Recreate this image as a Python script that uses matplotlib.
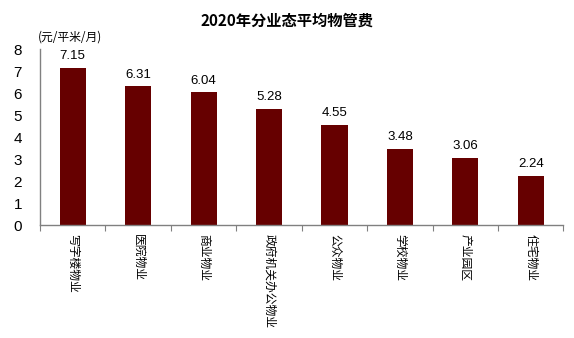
import matplotlib
matplotlib.use("Agg")
import matplotlib.pyplot as plt
import numpy as np

plt.rcParams["font.family"] = ["Noto Sans CJK SC", "DejaVu Sans"]

categories = ["写字楼物业", "医院物业", "商业物业", "政府机关办公物业",
              "公众物业", "学校物业", "产业园区", "住宅物业"]
fees = [7.15, 6.31, 6.04, 5.28, 4.55, 3.48, 3.06, 2.24]
yticks = [0, 1, 2, 3, 4, 5, 6, 7, 8]

BAR = "#660000"

fig = plt.figure(figsize=(5.74, 3.38), dpi=100)
ax = fig.add_axes([0.0697, 0.334, 0.912, 0.521])

x = np.arange(len(categories))
ax.bar(x, fees, width=0.4, color=BAR, zorder=2)
for xi, v in zip(x, fees):
    ax.text(xi, v + 0.25, f"{v:.2f}", ha="center", va="bottom",
            fontsize=9.5, family=["Liberation Sans", "DejaVu Sans"])

ax.set_xlim(-0.5, len(categories) - 0.5)
ax.set_ylim(0, 8)
ax.set_yticks(yticks)
ax.set_yticklabels([str(t) for t in yticks],
                   family=["Liberation Sans", "DejaVu Sans"], fontsize=11)
ax.tick_params(axis="y", length=0, pad=13)

# category ticks sit on the boundaries between bars
ax.set_xticks(np.arange(len(categories) + 1) - 0.5)
ax.set_xticklabels([])
ax.tick_params(axis="x", direction="out", length=4, color="#808080")
for xi, name in zip(x, categories):
    ax.text(xi, -0.42, name, rotation=-90, ha="center", va="top",
            fontsize=8.5, transform=ax.transData)

for side in ("top", "right"):
    ax.spines[side].set_visible(False)
for side in ("left", "bottom"):
    ax.spines[side].set_color("#808080")
    ax.spines[side].set_linewidth(1.0)

fig.text(0.5, 0.94, "2020年分业态平均物管费", ha="center", va="center",
         fontsize=11, fontweight="bold")
fig.text(0.066, 0.89, "(元/平米/月)", ha="left", va="center", fontsize=8.5)

fig.savefig("out.png", dpi=100)
